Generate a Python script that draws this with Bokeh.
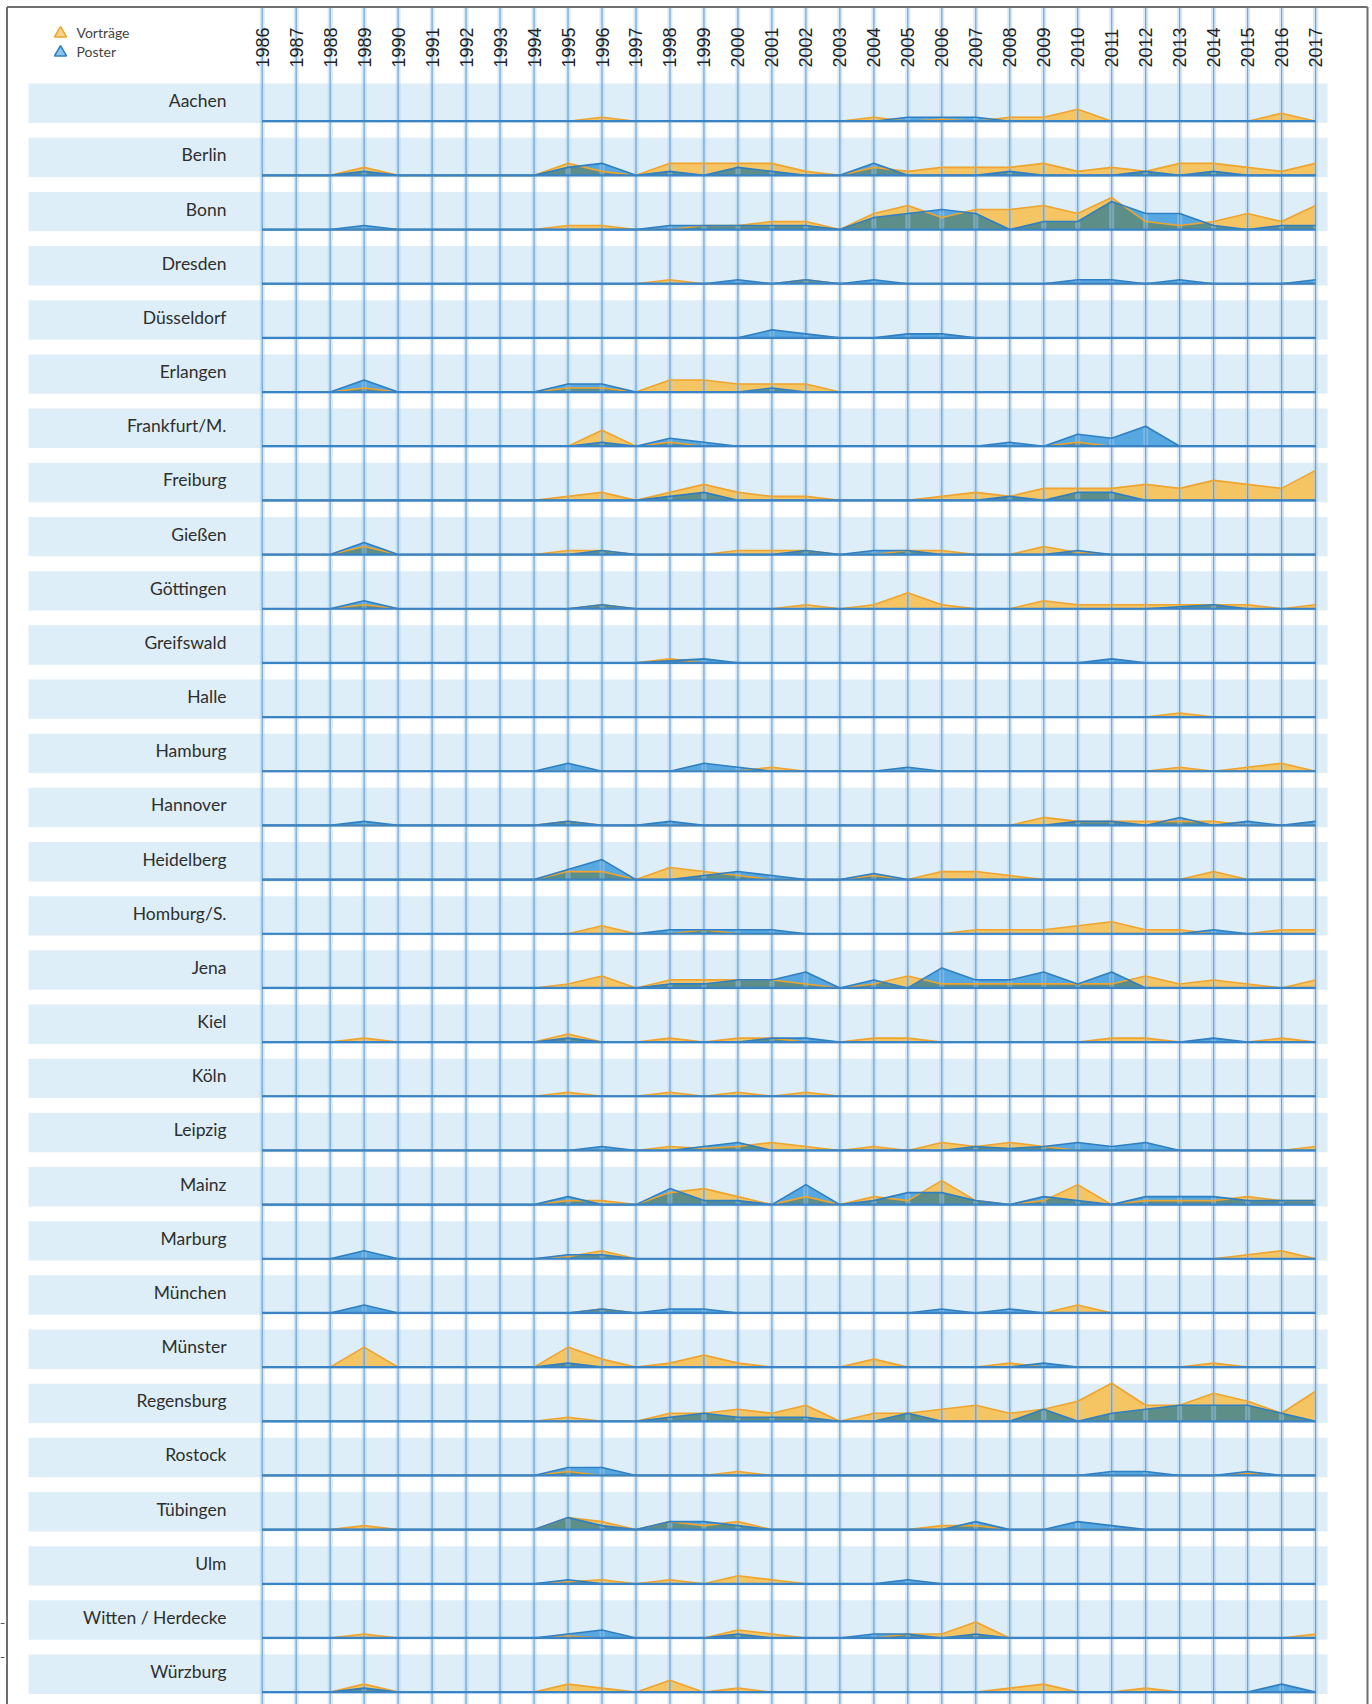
import numpy as np
from bokeh.plotting import figure
from bokeh.models import Range1d
from bokeh.core.properties import value
from bokeh.embed import file_html
from bokeh.resources import INLINE

# ---------------- data ----------------
years = list(range(1986, 2018))

cities = ["Aachen", "Berlin", "Bonn", "Dresden", "Düsseldorf", "Erlangen",
          "Frankfurt/M.", "Freiburg", "Gießen", "Göttingen", "Greifswald",
          "Halle", "Hamburg", "Hannover", "Heidelberg", "Homburg/S.", "Jena",
          "Kiel", "Köln", "Leipzig", "Mainz", "Marburg", "München", "Münster",
          "Regensburg", "Rostock", "Tübingen", "Ulm", "Witten / Herdecke",
          "Würzburg"]

Z8 = [0, 0, 0, 0, 0, 0, 0, 0]

aachen_v = Z8 + [0, 0, 1, 0, 0, 0, 0, 0] + [0, 0, 1, 0, 0.5, 0, 1, 1] + [3, 0, 0, 0, 0, 0, 2, 0]
aachen_p = Z8 + Z8 + [0, 0, 0, 1, 1, 1, 0, 0] + Z8
berlin_v = [0, 0, 0, 2, 0, 0, 0, 0] + [0, 3, 1, 0, 3, 3, 3, 3] + [1, 0, 2, 1, 2, 2, 2, 3] + [1, 2, 1, 3, 3, 2, 1, 3]
berlin_p = [0, 0, 0, 1, 0, 0, 0, 0] + [0, 2, 3, 0, 1, 0, 2, 1] + [0, 0, 3, 0, 0, 0, 1, 0] + [0, 0, 1, 0, 1, 0, 0, 0]
bonn_v = Z8 + [0, 1, 1, 0, 0, 1, 1, 2] + [2, 0, 4, 6, 3, 5, 5, 6] + [4, 8, 2, 1, 2, 4, 2, 6]
bonn_p = [0, 0, 0, 1, 0, 0, 0, 0] + [0, 0, 0, 0, 1, 1, 1, 1] + [1, 0, 3, 4, 5, 4, 0, 2] + [2, 7, 4, 4, 1, 0, 1, 1]
dresden_v = Z8 + [0, 0, 0, 0, 1, 0, 0, 0] + [1, 0, 0, 0, 0, 0, 0, 0] + Z8
dresden_p = Z8 + [0, 0, 0, 0, 0, 0, 1, 0] + [1, 0, 1, 0, 0, 0, 0, 0] + [1, 1, 0, 1, 0, 0, 0, 1]
duesseldorf_v = Z8 + Z8 + Z8 + Z8
duesseldorf_p = Z8 + [0, 0, 0, 0, 0, 0, 0, 2] + [1, 0, 0, 1, 1, 0, 0, 0] + Z8
erlangen_v = [0, 0, 0, 1, 0, 0, 0, 0] + [0, 1, 1, 0, 3, 3, 2, 2] + [2, 0, 0, 0, 0, 0, 0, 0] + Z8
erlangen_p = [0, 0, 0, 3, 0, 0, 0, 0] + [0, 2, 2, 0, 0, 0, 0, 1] + Z8 + Z8
frankfurt_v = Z8 + [0, 0, 4, 0, 1, 0, 0, 0] + Z8 + [1, 0, 0, 0, 0, 0, 0, 0]
frankfurt_p = Z8 + [0, 0, 1, 0, 2, 1, 0, 0] + [0, 0, 0, 0, 0, 0, 1, 0] + [3, 2, 5, 0, 0, 0, 0, 0]
freiburg_v = Z8 + [0, 1, 2, 0, 2, 4, 2, 1] + [1, 0, 0, 0, 1, 2, 1, 3] + [3, 3, 4, 3, 5, 4, 3, 7.5]
freiburg_p = Z8 + [0, 0, 0, 0, 1, 2, 0, 0] + [0, 0, 0, 0, 0, 0, 1, 0] + [2, 2, 0, 0, 0, 0, 0, 0]
giessen_v = [0, 0, 0, 2, 0, 0, 0, 0] + [0, 1, 1, 0, 0, 0, 1, 1] + [1, 0, 0, 1, 1, 0, 0, 2] + [0.5, 0, 0, 0, 0, 0, 0, 0]
giessen_p = [0, 0, 0, 3, 0, 0, 0, 0] + [0, 0, 1, 0, 0, 0, 0, 0] + [1, 0, 1, 1, 0, 0, 0, 0] + [1, 0, 0, 0, 0, 0, 0, 0]
goettingen_v = [0, 0, 0, 1, 0, 0, 0, 0] + [0, 0, 1, 0, 0, 0, 0, 0] + [1, 0, 1, 4, 1, 0, 0, 2] + [1, 1, 1, 1, 1, 1, 0, 1]
goettingen_p = [0, 0, 0, 2, 0, 0, 0, 0] + [0, 0, 1, 0, 0, 0, 0, 0] + Z8 + [0, 0, 0, 0.5, 1, 0, 0, 0]
greifswald_v = Z8 + [0, 0, 0, 0, 1, 0, 0, 0] + Z8 + Z8
greifswald_p = Z8 + [0, 0, 0, 0, 0.5, 1, 0, 0] + Z8 + [0, 1, 0, 0, 0, 0, 0, 0]
halle_v = Z8 + Z8 + Z8 + [0, 0, 0, 1, 0, 0, 0, 0]
halle_p = Z8 + Z8 + Z8 + Z8
hamburg_v = Z8 + [0, 0, 0, 0, 0, 0, 0, 1] + Z8 + [0, 0, 0, 1, 0, 1, 2, 0]
hamburg_p = Z8 + [0, 2, 0, 0, 0, 2, 1, 0] + [0, 0, 0, 1, 0, 0, 0, 0] + Z8
hannover_v = Z8 + [0, 1, 0, 0, 0, 0, 0, 0] + [0, 0, 0, 0, 0, 0, 0, 2] + [1, 1, 1, 1, 1, 0, 0, 0]
hannover_p = [0, 0, 0, 1, 0, 0, 0, 0] + [0, 1, 0, 0, 1, 0, 0, 0] + Z8 + [1, 1, 0, 2, 0, 1, 0, 1]
heidelberg_v = Z8 + [0, 2, 2, 0, 3, 2, 1, 0] + [0, 0, 1, 0, 2, 2, 1, 0] + [0, 0, 0, 0, 2, 0, 0, 0]
heidelberg_p = Z8 + [0, 2.5, 5, 0, 0, 1, 2, 1] + [0, 0, 1.5, 0, 0, 0, 0, 0] + Z8
homburg_v = Z8 + [0, 0, 2, 0, 0, 1, 0, 0] + [0, 0, 0, 0, 0, 1, 1, 1] + [2, 3, 1, 1, 0, 0, 1, 1]
homburg_p = Z8 + [0, 0, 0, 0, 1, 1, 1, 1] + Z8 + [0, 0, 0, 0, 1, 0, 0, 0]
jena_v = Z8 + [0, 1, 3, 0, 2, 2, 2, 2] + [1, 0, 1, 3, 1, 1, 1, 1] + [1, 1, 3, 1, 2, 1, 0, 2]
jena_p = Z8 + [0, 0, 0, 0, 1, 1, 2, 2] + [4, 0, 2, 0, 5, 2, 2, 4] + [1, 4, 0, 0, 0, 0, 0, 0]
kiel_v = [0, 0, 0, 1, 0, 0, 0, 0] + [0, 2, 0, 0, 1, 0, 1, 1] + [0, 0, 1, 1, 0, 0, 0, 0] + [0, 1, 1, 0, 0, 0, 1, 0]
kiel_p = Z8 + [0, 1, 0, 0, 0, 0, 0, 1] + [1, 0, 0, 0, 0, 0, 0, 0] + [0, 0, 0, 0, 1, 0, 0, 0]
koeln_v = Z8 + [0, 1, 0, 0, 1, 0, 1, 0] + [1, 0, 0, 0, 0, 0, 0, 0] + Z8
koeln_p = Z8 + Z8 + Z8 + Z8
leipzig_v = Z8 + [0, 0, 0, 0, 1, 0.5, 1, 2] + [1, 0, 1, 0, 2, 1, 2, 1] + [0, 0, 0, 0, 0, 0, 0, 1]
leipzig_p = Z8 + [0, 0, 1, 0, 0, 1, 2, 0] + [0, 0, 0, 0, 0, 1, 0.5, 1] + [2, 1, 2, 0, 0, 0, 0, 0]
mainz_v = Z8 + [0, 1, 1, 0, 3, 4, 2, 0] + [2, 0, 2, 1, 6, 1, 0, 1] + [5, 0, 1, 1, 1, 2, 1, 1]
mainz_p = Z8 + [0, 2, 0, 0, 4, 1, 1, 0] + [5, 0, 1, 3, 3, 1, 0, 2] + [1, 0, 2, 2, 2, 1, 1, 1]
marburg_v = Z8 + [0, 0.5, 2, 0, 0, 0, 0, 0] + Z8 + [0, 0, 0, 0, 0, 1, 2, 0]
marburg_p = [0, 0, 0, 2, 0, 0, 0, 0] + [0, 1, 1, 0, 0, 0, 0, 0] + Z8 + Z8
muenchen_v = Z8 + [0, 0, 1, 0, 0, 0, 0, 0] + Z8 + [2, 0, 0, 0, 0, 0, 0, 0]
muenchen_p = [0, 0, 0, 2, 0, 0, 0, 0] + [0, 0, 1, 0, 1, 1, 0, 0] + [0, 0, 0, 0, 1, 0, 1, 0] + Z8
muenster_v = [0, 0, 0, 5, 0, 0, 0, 0] + [0, 5, 2, 0, 1, 3, 1, 0] + [0, 0, 2, 0, 0, 0, 1, 0] + [0, 0, 0, 0, 1, 0, 0, 0]
muenster_p = Z8 + [0, 1, 0, 0, 0, 0, 0, 0] + [0, 0, 0, 0, 0, 0, 0, 1] + Z8
regensburg_v = Z8 + [0, 1, 0, 0, 2, 2, 3, 2] + [4, 0, 2, 2, 3, 4, 2, 3] + [5, 9.5, 4, 4, 7, 5, 2, 7.5]
regensburg_p = Z8 + [0, 0, 0, 0, 1, 2, 1, 1] + [1, 0, 0, 2, 0, 0, 0, 3] + [0, 2, 3, 4, 4, 4, 2, 0]
rostock_v = Z8 + [0, 1, 0, 0, 0, 0, 1, 0] + Z8 + [0, 0, 0, 0, 0, 0.5, 0, 0]
rostock_p = Z8 + [0, 2, 2, 0, 0, 0, 0, 0] + Z8 + [0, 1, 1, 0, 0, 1, 0, 0]
tuebingen_v = [0, 0, 0, 1, 0, 0, 0, 0] + [0, 3, 2, 0, 2, 1, 2, 0] + [0, 0, 0, 0, 1, 1, 0, 0] + Z8
tuebingen_p = Z8 + [0, 3, 1, 0, 2, 2, 1, 0] + [0, 0, 0, 0, 0, 2, 0, 0] + [2, 1, 0, 0, 0, 0, 0, 0]
ulm_v = Z8 + [0, 0.5, 1, 0, 1, 0, 2, 1] + Z8 + Z8
ulm_p = Z8 + [0, 1, 0, 0, 0, 0, 0, 0] + [0, 0, 0, 1, 0, 0, 0, 0] + Z8
witten_v = [0, 0, 0, 1, 0, 0, 0, 0] + [0, 0.5, 0, 0, 0, 0, 2, 1] + [0, 0, 0, 1, 1, 4, 0, 0] + [0, 0, 0, 0, 0, 0, 0, 1]
witten_p = Z8 + [0, 1, 2, 0, 0, 0, 1, 0] + [0, 0, 1, 1, 0, 1, 0, 0] + Z8
wuerzburg_v = [0, 0, 0, 2, 0, 0, 0, 0] + [0, 2, 1, 0, 3, 0, 1, 0] + [0, 0, 0, 0, 0, 0, 1, 2] + [0, 0, 1, 0, 0, 0, 0, 0]
wuerzburg_p = [0, 0, 0, 1, 0, 0, 0, 0] + Z8 + Z8 + [0, 0, 0, 0, 0, 0, 2, 0]

vortraege = [aachen_v, berlin_v, bonn_v, dresden_v, duesseldorf_v, erlangen_v,
             frankfurt_v, freiburg_v, giessen_v, goettingen_v, greifswald_v,
             halle_v, hamburg_v, hannover_v, heidelberg_v, homburg_v, jena_v,
             kiel_v, koeln_v, leipzig_v, mainz_v, marburg_v, muenchen_v,
             muenster_v, regensburg_v, rostock_v, tuebingen_v, ulm_v,
             witten_v, wuerzburg_v]
poster = [aachen_p, berlin_p, bonn_p, dresden_p, duesseldorf_p, erlangen_p,
          frankfurt_p, freiburg_p, giessen_p, goettingen_p, greifswald_p,
          halle_p, hamburg_p, hannover_p, heidelberg_p, homburg_p, jena_p,
          kiel_p, koeln_p, leipzig_p, mainz_p, marburg_p, muenchen_p,
          muenster_p, regensburg_p, rostock_p, tuebingen_p, ulm_p,
          witten_p, wuerzburg_p]

# ---------------- layout helpers ----------------
W, H = 1372, 1704
X0PX, XSTEP = 261.7, 33.98      # x of 1986, px per year
Y0PX, UNIT = 120.7, 4.0         # y of first baseline, px per value unit
ROW = 54.17 / UNIT              # row pitch in value units


def px_x(px):
    return 1986 + (px - X0PX) / XSTEP


def px_y(py):
    return (Y0PX - py) / UNIT


p = figure(width=W, height=H, output_backend="svg", toolbar_location=None,
           x_range=Range1d(px_x(0), px_x(W)),
           y_range=Range1d(px_y(H), px_y(0)),
           x_axis_type=None, y_axis_type=None, min_border=0)
p.grid.visible = False
p.outline_line_color = None
p.background_fill_color = "white"
p.border_fill_color = "white"

BAND = "#ddeef9"
OR_FILL, OR_LINE = "#f6c25c", "#eea42e"
BL_FILL, BL_LINE = "#4fa3de", "#2f7fc2"
MIX = "#5e8e88"

bases = [-i * ROW for i in range(len(cities))]

# bands
p.quad(left=px_x(28), right=px_x(1327),
       bottom=[b - 0.45 for b in bases], top=[b + 9.4 for b in bases],
       fill_color=BAND, line_color=None)


def min_curve(x, a, b):
    xs, ys = [x[0]], [min(a[0], b[0])]
    for i in range(len(x) - 1):
        d0 = a[i] - b[i]
        d1 = a[i + 1] - b[i + 1]
        if d0 * d1 < 0:
            t = d0 / (d0 - d1)
            xs.append(x[i] + t * (x[i + 1] - x[i]))
            ys.append(a[i] + t * (a[i + 1] - a[i]))
        xs.append(x[i + 1])
        ys.append(min(a[i + 1], b[i + 1]))
    return np.array(xs), np.array(ys)


yrs = np.array(years, dtype=float)
for b, v, ps in zip(bases, vortraege, poster):
    v = np.array(v, dtype=float)
    ps = np.array(ps, dtype=float)
    p.varea(x=yrs, y1=b, y2=b + v, fill_color=OR_FILL, fill_alpha=0.95)
    p.varea(x=yrs, y1=b, y2=b + ps, fill_color=BL_FILL, fill_alpha=0.95)
    mx, my = min_curve(yrs, v, ps)
    p.varea(x=mx, y1=b, y2=b + my, fill_color=MIX, fill_alpha=1.0)

# vertical year lines
ytop, ybot = px_y(7), px_y(H)
p.segment(x0=years, x1=years, y0=ytop, y1=ybot, line_color="#a8cdec",
          line_width=5, line_alpha=0.45)
p.segment(x0=years, x1=years, y0=ytop, y1=ybot, line_color="#4c92cc",
          line_width=1.2, line_alpha=0.75)

for b, v, ps in zip(bases, vortraege, poster):
    v = np.array(v, dtype=float)
    ps = np.array(ps, dtype=float)
    p.line(x=yrs, y=b + v, line_color=OR_LINE, line_width=1.6)
    p.line(x=yrs, y=b + ps, line_color=BL_LINE, line_width=1.6)

# baselines
p.segment(x0=years[0], x1=years[-1], y0=bases, y1=bases,
          line_color="#3a84c5", line_width=2.2)

# city labels
p.text(x=[px_x(226)] * len(cities), y=[b + 20.5 / UNIT for b in bases],
       text=cities, text_align="right", text_baseline="alphabetic",
       text_font=value("Lato"), text_font_size="17.5px", text_color="#2e2e2e")

# year labels
p.text(x=years, y=[px_y(67)] * len(years), text=[str(y) for y in years],
       angle=np.pi / 2, text_align="left", text_baseline="middle",
       text_font=value("Liberation Sans"), text_font_size="18px",
       text_color="#222222")

# legend
p.scatter(x=[px_x(60), px_x(60)], y=[px_y(33), px_y(52)], marker="triangle",
          size=12, fill_color=["#f8d48a", "#8cc3ea"],
          line_color=[OR_LINE, BL_LINE], line_width=1.6)
p.text(x=[px_x(76), px_x(76)], y=[px_y(32), px_y(51)],
       text=["Vorträge", "Poster"], text_align="left", text_baseline="middle",
       text_font=value("Lato"), text_font_size="14px", text_color="#444444")

# frame
p.segment(x0=[px_x(6.5), px_x(6.5), px_x(1367)],
          x1=[px_x(6.5), px_x(1367), px_x(1367)],
          y0=[ybot, px_y(6.5), px_y(6.5)],
          y1=[px_y(6.5), px_y(6.5), ybot],
          line_color="#6e6e6e", line_width=2)
# small crop marks at the left edge
p.segment(x0=[px_x(0), px_x(0)], x1=[px_x(4), px_x(4)],
          y0=[px_y(1623), px_y(1657)], y1=[px_y(1623), px_y(1657)],
          line_color="#555555", line_width=1)

open("out.html", "w").write(file_html(p, INLINE))
